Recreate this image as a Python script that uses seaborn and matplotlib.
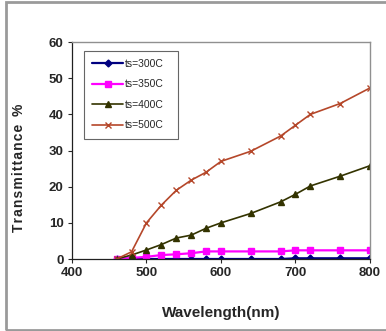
import pandas as pd
import numpy as np
import matplotlib
matplotlib.use('Agg')
import matplotlib.pyplot as plt
import seaborn as sns
from matplotlib.patches import Rectangle

# Data
wavelength = [460, 480, 500, 520, 540, 560, 580, 600, 640, 680, 700, 720, 760, 800]
ts_300 = [0, 0, 0, 0, 0, 0, 0, 0, 0, 0, 0.2, 0.2, 0.2, 0.2]
ts_350 = [0, 0.3, 0.6, 1.1, 1.3, 1.6, 2.1, 2.1, 2.1, 2.1, 2.4, 2.4, 2.4, 2.4]
ts_400 = [0, 1.1, 2.5, 4.0, 5.8, 6.6, 8.5, 10.0, 12.6, 15.8, 17.9, 20.2, 22.9, 25.8]
ts_500 = [0, 2.0, 10.0, 14.9, 19.0, 21.8, 24.0, 27.0, 29.8, 34.0, 37.0, 40.0, 43.0, 47.3]

labels = ['ts=300C', 'ts=350C', 'ts=400C', 'ts=500C']
colors = ['#000080', '#FF00FF', '#333300', '#B5472A']
markers = ['D', 's', '^', 'x']
msizes = [3.5, 4.5, 5, 5]
lwidths = [1.6, 1.6, 1.2, 1.2]

df = pd.DataFrame({'Wavelength': wavelength * 4,
                   'T': ts_300 + ts_350 + ts_400 + ts_500,
                   'series': np.repeat(labels, len(wavelength))})

sns.set_style("white")
plt.rcParams['font.family'] = ['Liberation Sans', 'DejaVu Sans']

fig = plt.figure(figsize=(3.86, 3.31), dpi=100)
ax = fig.add_axes([0.1865, 0.2175, 0.772, 0.6555])

for lab, c, m, ms, lw in zip(labels, colors, markers, msizes, lwidths):
    sub = df[df['series'] == lab]
    sns.lineplot(data=sub, x='Wavelength', y='T', ax=ax, color=c, marker=m,
                 markersize=ms, markeredgecolor=c, markeredgewidth=1.0,
                 linewidth=lw, label=lab)

ax.set_xlim(400, 800)
ax.set_ylim(0, 60)
ax.set_xticks([400, 500, 600, 700, 800])
ax.set_yticks([0, 10, 20, 30, 40, 50, 60])
ax.tick_params(axis='both', labelsize=9.5, length=3, width=0.8, direction='out',
               bottom=True, left=True, pad=3)
for t in ax.get_xticklabels() + ax.get_yticklabels():
    t.set_fontweight('bold')

for s in ['top', 'right']:
    ax.spines[s].set_color('#909090')
    ax.spines[s].set_linewidth(1.0)
for s in ['left', 'bottom']:
    ax.spines[s].set_color('#202020')
    ax.spines[s].set_linewidth(0.9)

ax.set_xlabel('Wavelength(nm)', fontsize=11, fontweight='bold')
ax.xaxis.set_label_coords(0.5, -0.215)
ylab = '\u200a'.join('Transmittance') + '  %'
ax.set_ylabel(ylab, fontsize=10, fontweight='bold')
ax.yaxis.set_label_coords(-0.155, 0.42)

leg = ax.legend(loc='upper left', bbox_to_anchor=(0.04, 0.55, 0.316, 0.41),
                mode='expand', fontsize=7.5,
                frameon=True, fancybox=False, edgecolor='#404040',
                handlelength=3.0, handletextpad=0.1, labelspacing=1.0,
                borderpad=0.8, borderaxespad=0)
leg.get_frame().set_linewidth(0.8)

# grey outer border like the original chart area
fig.patches.append(Rectangle((6 / 386, 1 / 331), 1.0, 328 / 331, transform=fig.transFigure,
                             fill=False, edgecolor='#9a9a9a', linewidth=2))

fig.savefig('out.png', dpi=100)
